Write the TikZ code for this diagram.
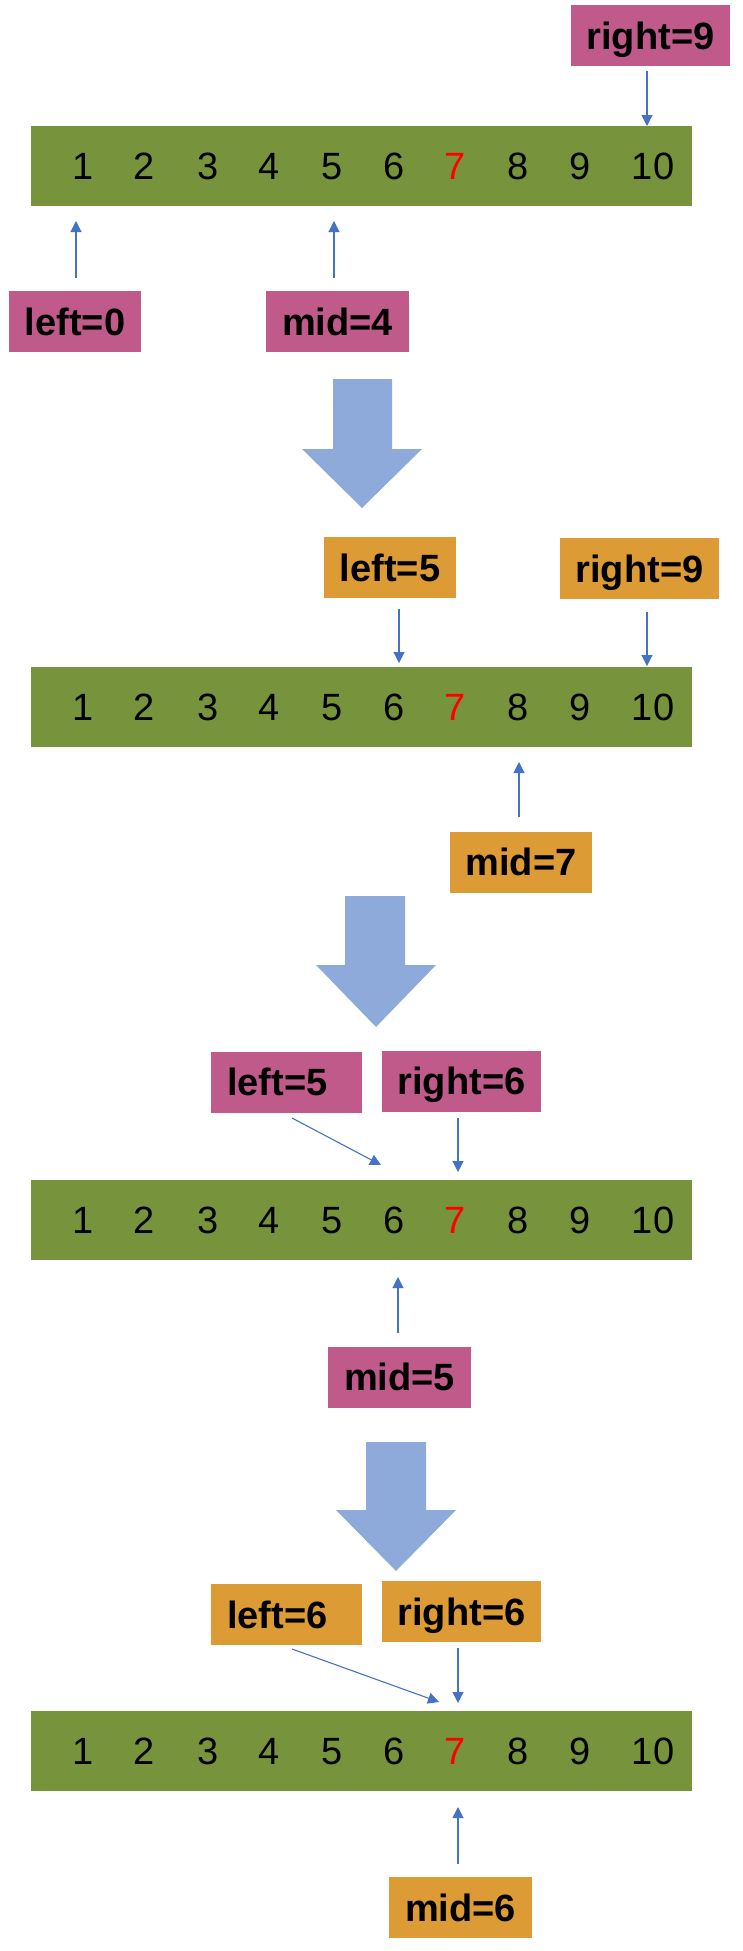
\documentclass[tikz,border=0pt]{standalone}
\usepackage{fontspec}
\setmainfont{Liberation Sans}
\usetikzlibrary{arrows.meta}
\definecolor{bargreen}{HTML}{77933C}
\definecolor{lblpink}{HTML}{BF5A8A}
\definecolor{lblorange}{HTML}{DC9B35}
\definecolor{bigblue}{HTML}{8EAADB}
\definecolor{lineblue}{HTML}{4472C4}
\tikzset{
  bar/.style={fill=bargreen, draw=none, minimum width=661pt, minimum height=80pt, inner sep=0pt},
  num/.style={font=\fontsize{38}{40}\selectfont, inner sep=0pt, text=black, text height=27pt, text depth=0pt},
  lbl/.style={font=\bfseries\fontsize{38}{40}\selectfont, inner xsep=16pt, inner ysep=0pt, text height=27.5pt, text depth=0pt, minimum height=61pt, text=black},
  pinkbox/.style={lbl, fill=lblpink},
  orangebox/.style={lbl, fill=lblorange},
  widebox/.style={text width=119pt, align=left},
  conn/.style={draw=lineblue, line width=1.1pt, -{Triangle[width=11pt,length=11pt]}},
  bigarrow/.style={fill=bigblue, draw=none},
}
\newcommand\numrow[2]{%
  \node[bar] (#1) at (361.5,#2) {};
  \foreach \n/\x in {1/83,2/144,3/208,4/269,5/332,6/394,8/518,9/580,10/653}
    \node[num] (#1n\n) at (\x,#2) {\n};
  \node[num,text=red] (#1n7) at (455,#2) {7};
}
\begin{document}
\begin{tikzpicture}[x=1pt,y=-1pt]
\useasboundingbox (0,0) rectangle (742,1951);

% ---------- Step 1 ----------
\numrow{barA}{166}
\node[pinkbox] (rA) at (650.5,35.5) {right=9};
\node[pinkbox] (lA) at (75,321.5) {left=0};
\node[pinkbox] (mA) at (337.5,321.5) {mid=4};
\coordinate (rAend) at (647,126);
\coordinate (lAend) at (76,221);
\coordinate (mAend) at (334,221);
\draw[conn, shorten <=5pt] (rA.south -| rAend) -- (rAend);
\draw[conn, shorten <=13pt] (lA.north -| lAend) -- (lAend);
\draw[conn, shorten <=13pt] (mA.north -| mAend) -- (mAend);

% big arrow 1
\fill[bigarrow] (333,379) -- (392,379) -- (392,449) -- (422,449) -- (362,508) -- (302,449) -- (333,449) -- cycle;

% ---------- Step 2 ----------
\numrow{barB}{706.5}
\node[orangebox] (lB) at (390,567.5) {left=5};
\node[orangebox] (rB) at (639.5,568.5) {right=9};
\node[orangebox] (mB) at (521,862) {mid=7};
\coordinate (lBend) at (399,663);
\coordinate (rBend) at (647,666);
\coordinate (mBend) at (519,762);
\draw[conn, shorten <=11pt] (lB.south -| lBend) -- (lBend);
\draw[conn, shorten <=13pt] (rB.south -| rBend) -- (rBend);
\draw[conn, shorten <=14pt] (mB.north -| mBend) -- (mBend);

% big arrow 2
\fill[bigarrow] (345,896) -- (405,896) -- (405,965) -- (436,965) -- (376,1027) -- (316,965) -- (345,965) -- cycle;

% ---------- Step 3 ----------
\numrow{barC}{1220}
\node[pinkbox, widebox] (lC) at (286.5,1082) {left=5};
\node[pinkbox] (rC) at (461.5,1081) {right=6};
\node[pinkbox] (mC) at (399.5,1377) {mid=5};
\coordinate (lCstart) at (292,1118);
\coordinate (lCend) at (381,1165);
\coordinate (rCend) at (458,1172);
\coordinate (mCend) at (398,1277);
\draw[conn] (lCstart) -- (lCend);
\draw[conn, shorten <=6pt] (rC.south -| rCend) -- (rCend);
\draw[conn, shorten <=13pt] (mC.north -| mCend) -- (mCend);

% big arrow 3
\fill[bigarrow] (366,1442) -- (426,1442) -- (426,1510) -- (456,1510) -- (396,1571) -- (336,1510) -- (366,1510) -- cycle;

% ---------- Step 4 ----------
\numrow{barD}{1751}
\node[orangebox, widebox] (lD) at (286.5,1614.5) {left=6};
\node[orangebox] (rD) at (461.5,1611.5) {right=6};
\node[orangebox] (mD) at (460.5,1907.5) {mid=6};
\coordinate (lDstart) at (292,1649);
\coordinate (lDend) at (439,1702);
\coordinate (rDend) at (458,1703);
\coordinate (mDend) at (458,1807);
\draw[conn] (lDstart) -- (lDend);
\draw[conn, shorten <=6pt] (rD.south -| rDend) -- (rDend);
\draw[conn, shorten <=13pt] (mD.north -| mDend) -- (mDend);
\end{tikzpicture}
\end{document}
